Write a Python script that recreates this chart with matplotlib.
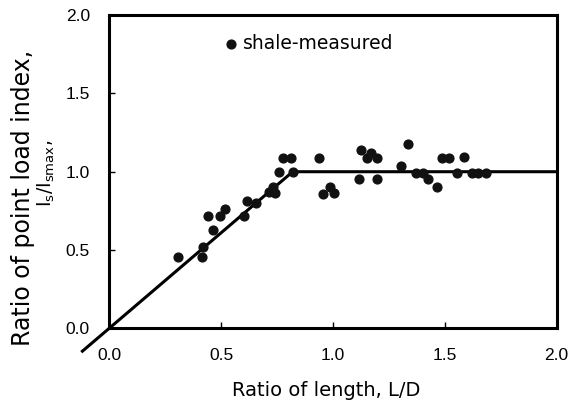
import matplotlib.pyplot as plt
import numpy as np

# measured shale points (L/D, Is/Ismax)
ld_ratio = [0.308, 0.413, 0.420, 0.465, 0.443, 0.495, 0.517, 0.602, 0.617, 0.656,
            0.730, 0.740, 0.712, 0.760, 0.820, 0.778, 0.811, 0.939, 0.957, 0.987,
            1.004, 1.125, 1.169, 1.151, 1.198, 1.116, 1.198, 1.304, 1.334, 1.371,
            1.401, 1.426, 1.464, 1.486, 1.520, 1.586, 1.556, 1.620, 1.650, 1.683]
is_ratio = [0.457, 0.457, 0.521, 0.628, 0.719, 0.719, 0.762, 0.718, 0.811, 0.799,
            0.905, 0.863, 0.871, 0.997, 0.997, 1.086, 1.086, 1.086, 0.858, 0.905,
            0.866, 1.139, 1.118, 1.086, 1.086, 0.952, 0.954, 1.037, 1.178, 0.990,
            0.990, 0.951, 0.905, 1.086, 1.086, 1.093, 0.990, 0.990, 0.990, 0.990]

# bilinear trend line
line_x = [-0.12, 0.82, 2.0]
line_y = [-0.145, 1.0, 1.0]

ticks = [0.0, 0.5, 1.0, 1.5, 2.0]
tick_labels = ['0.0', '0.5', '1.0', '1.5', '2.0']

fig = plt.figure(figsize=(5.75, 4.05), dpi=100)
ax = fig.add_axes([0.190, 0.189, 0.778, 0.774])

ax.plot(line_x, line_y, color='black', lw=2.2, clip_on=False, zorder=2)
ax.scatter(ld_ratio, is_ratio, s=40, color='#111111', zorder=3,
           label='shale-measured')

ax.set_xlim(0, 2.0)
ax.set_ylim(0, 2.0)
ax.set_xticks(ticks)
ax.set_yticks(ticks)
ax.set_xticklabels(tick_labels, fontfamily='Liberation Sans', fontsize=12.5)
ax.set_yticklabels(tick_labels, fontfamily='Liberation Sans', fontsize=12.5)
ax.tick_params(axis='x', direction='in', length=4, width=1, pad=14)
ax.tick_params(axis='y', direction='in', length=4, width=1, pad=14)
for sp in ax.spines.values():
    sp.set_linewidth(2.2)

leg = ax.legend(loc='center left', bbox_to_anchor=(0.26, 0.91), frameon=False,
                handlelength=0.6, handletextpad=0.35, borderpad=0, borderaxespad=0,
                prop={'family': 'DejaVu Sans', 'size': 13.5})

fig.text(0.568, 0.035, 'Ratio of length, L/D', ha='center', va='center',
         fontsize=14, fontfamily='DejaVu Sans')
fig.text(0.040, 0.511, 'Ratio of point load index,', ha='center', va='center',
         rotation=90, fontsize=17, fontfamily='DejaVu Sans')
fig.text(0.081, 0.573, r'I$_\mathregular{s}$/I$_\mathregular{smax}$,', ha='center',
         va='center', rotation=90, fontsize=13.5, fontfamily='DejaVu Sans')

fig.savefig('out.png', dpi=100)
